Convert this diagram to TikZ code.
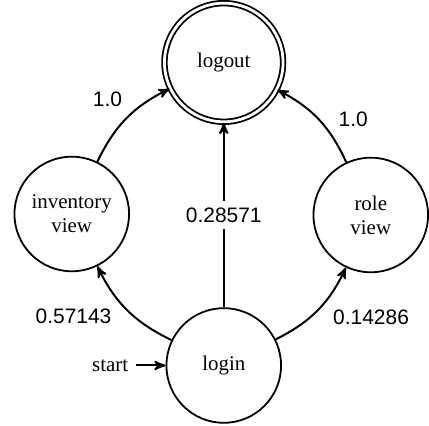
\documentclass[tikz,border=0pt]{standalone}
\usepackage{fontspec}
\setmainfont{Liberation Serif}
\setsansfont{Liberation Sans}
\usetikzlibrary{arrows, positioning}
\tikzstyle{screen} = [draw, circle, line width=0.9pt, minimum size=57.5pt,
    inner sep=0pt, align=center]
\tikzstyle{endscreen} = [screen, double, double distance=1.4pt,
    minimum size=59.5pt]
\tikzstyle{arrow} = [->, line width=1pt]
\tikzstyle{prob} = [font=\sffamily]

\begin{document}
\begin{tikzpicture}[auto, >=stealth', bend angle=19]
    \fontsize{10.5pt}{12pt}\selectfont

    % Place the states
    \node [screen] (login) {login};
    \node [screen, on grid, above left=76pt and 76.25pt of login] (inventory) {inventory\\view};
    \node [screen, on grid, above right=75.5pt and 73.75pt of login] (role) {role\\view};
    \node [endscreen, on grid, above=152pt of login] (logout) {logout};
    \node [left=15pt of login] (start) {start};
    \useasboundingbox ([xshift=-112.25pt, yshift=-30pt]login.center)
        rectangle ([xshift=102.25pt, yshift=183pt]login.center);

    % Connect the states
    \draw [arrow] (start) -- (login);
    \draw [arrow] (login) to [bend left] node[prob, pos=0.62] {0.57143} (inventory);
    \draw [arrow] (inventory) to [bend left] node[prob, pos=0.55] {1.0} (logout);
    \draw [arrow] (login) -- node[prob, fill=white, auto=false] {0.28571} (logout);
    \draw [arrow] (login) to [bend right] node[prob, swap, pos=0.62] {0.14286} (role);
    \draw [arrow] (role) to [bend right] node[prob, swap, pos=0.3] {1.0} (logout);
\end{tikzpicture}
\end{document}
